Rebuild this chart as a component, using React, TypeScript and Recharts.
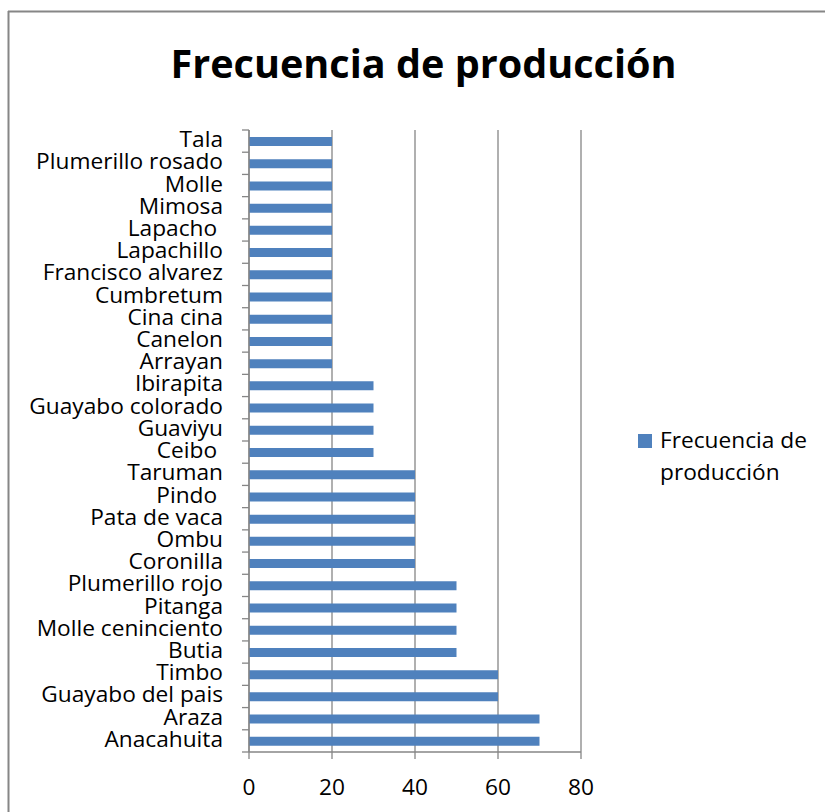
import React from "react";
import { BarChart, Bar, XAxis, YAxis, CartesianGrid } from "recharts";

const categories = [
  "Tala",
  "Plumerillo rosado",
  "Molle",
  "Mimosa",
  "Lapacho ",
  "Lapachillo",
  "Francisco alvarez",
  "Cumbretum",
  "Cina cina",
  "Canelon",
  "Arrayan",
  "Ibirapita",
  "Guayabo colorado",
  "Guaviyu",
  "Ceibo ",
  "Taruman",
  "Pindo ",
  "Pata de vaca",
  "Ombu",
  "Coronilla",
  "Plumerillo rojo",
  "Pitanga",
  "Molle ceninciento",
  "Butia",
  "Timbo",
  "Guayabo del pais",
  "Araza",
  "Anacahuita",
];

const values = [
  20, 20, 20, 20, 20, 20, 20, 20, 20, 20, 20,
  30, 30, 30, 30,
  40, 40, 40, 40, 40,
  50, 50, 50, 50,
  60, 60,
  70, 70,
];

const xTicks = [0, 20, 40, 60, 80];
const seriesName = "Frecuencia de producción";
const titleText = "Frecuencia de producción";

const data = categories.map((name, i) => ({ name, value: values[i] }));

const W = 825;
const H = 812;
const MARGIN = { top: 130, right: 244, left: 0, bottom: 0 };
const YAXIS_W = 249;
const XAXIS_H = 60;
const BAND = (H - MARGIN.top - MARGIN.bottom - XAXIS_H) / categories.length;
const GRAY = "#868686";
const BLUE = "#4f81bd";
const FONT = "'Open Sans', sans-serif";
const FS = 22.7;

const YTick = (props: any) => {
  const { x, y, payload, index } = props;
  const isLast = index === categories.length - 1;
  return (
    <g>
      <line x1={x - 7} x2={x} y1={y - BAND / 2} y2={y - BAND / 2} stroke={GRAY} strokeWidth={1.3} />
      {isLast && (
        <line x1={x - 7} x2={x} y1={y + BAND / 2} y2={y + BAND / 2} stroke={GRAY} strokeWidth={1.3} />
      )}
      <text
        x={x - 26}
        y={y + 6}
        textAnchor="end"
        fontFamily={FONT}
        fontSize={FS}
        fill="#000"
        style={{ whiteSpace: "pre" }}
      >
        {payload.value}
      </text>
    </g>
  );
};

const XTick = (props: any) => {
  const { x, payload } = props;
  return (
    <text
      x={x}
      y={H - MARGIN.bottom - XAXIS_H + 43}
      textAnchor="middle"
      fontFamily={FONT}
      fontSize={FS}
      fill="#000"
    >
      {payload.value}
    </text>
  );
};

export default function App() {
  return (
    <div style={{ position: "absolute", left: 0, top: 0, width: W, height: H, background: "#fff" }}>
      <BarChart
        width={W}
        height={H}
        data={data}
        layout="vertical"
        margin={MARGIN}
      >
        <CartesianGrid horizontal={false} vertical={true} stroke={GRAY} strokeWidth={1.3} />
        <XAxis
          type="number"
          domain={[0, 80]}
          ticks={xTicks}
          interval={0}
          height={XAXIS_H}
          stroke={GRAY}
          strokeWidth={1.3}
          tickSize={7}
          tick={<XTick />}
        />
        <YAxis
          type="category"
          dataKey="name"
          width={YAXIS_W}
          interval={0}
          stroke={GRAY}
          strokeWidth={1.3}
          tickLine={false}
          tickSize={0}
          tickMargin={0}
          tick={<YTick />}
        />
        <Bar dataKey="value" name={seriesName} fill={BLUE} barSize={9} isAnimationActive={false} />
      </BarChart>
      <svg
        width={W}
        height={H}
        style={{ position: "absolute", left: 0, top: 0, pointerEvents: "none" }}
      >
        <line x1={8.5} x2={8.5} y1={11} y2={H} stroke={GRAY} strokeWidth={2} />
        <line x1={8} x2={W} y1={11.5} y2={11.5} stroke={GRAY} strokeWidth={2} />
        <text
          x={423.5}
          y={78}
          textAnchor="middle"
          fontFamily={FONT}
          fontWeight="bold"
          fontSize={39.6}
          fill="#000"
        >
          {titleText}
        </text>
        <rect x={638} y={434} width={14} height={14} fill={BLUE} />
        <text x={660} y={448} fontFamily={FONT} fontSize={FS} fill="#000">
          Frecuencia de
        </text>
        <text x={660} y={480} fontFamily={FONT} fontSize={FS} fill="#000">
          producción
        </text>
      </svg>
    </div>
  );
}
